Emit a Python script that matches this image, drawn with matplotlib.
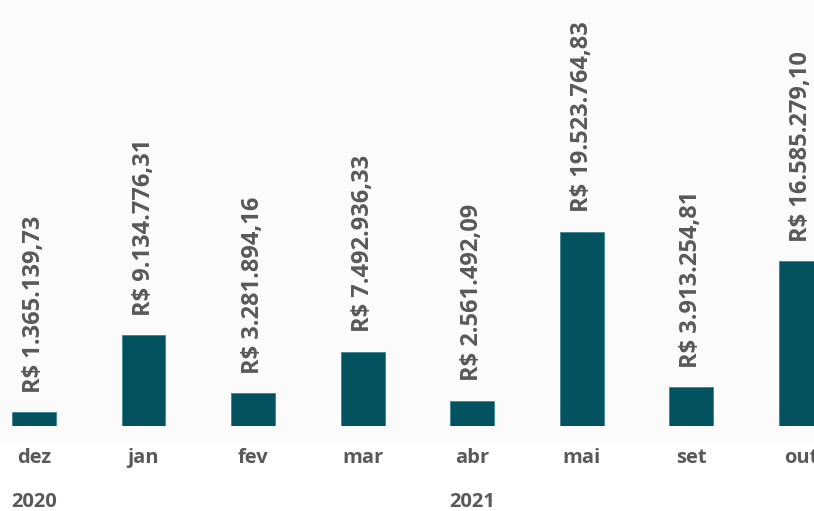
import matplotlib
matplotlib.use("Agg")
import matplotlib.pyplot as plt
from matplotlib.patches import Rectangle

months = ["dez", "jan", "fev", "mar", "abr", "mai", "set", "out"]
values = [1365139.73, 9134776.31, 3281894.16, 7492936.33, 2561492.09,
          19523764.83, 3913254.81, 16585279.10]
labels = ["R$ 1.365.139,73", "R$ 9.134.776,31", "R$ 3.281.894,16", "R$ 7.492.936,33",
          "R$ 2.561.492,09", "R$ 19.523.764,83", "R$ 3.913.254,81", "R$ 16.585.279,10"]
years = ["2020", "2021"]
year_pos = [0, 4]

W, H = 814, 511
fig = plt.figure(figsize=(W / 100, H / 100), dpi=100)
fig.patch.set_facecolor("white")
fig.patches.append(Rectangle((0, 1 - 441 / H), 1, 441 / H, transform=fig.transFigure,
                             facecolor="#fbfbfb", edgecolor="none", zorder=-5))

base = 426
ax = fig.add_axes([0, 1 - base / H, 1, base / H])
ax.set_facecolor("none")
ax.set_zorder(2)
x = list(range(len(months)))
ax.bar(x, values, width=0.40, color="#02535F", edgecolor="#3b8590", linewidth=0.6)
ax.set_xlim(-0.31, 7.12)
ax.set_ylim(0, 426 / 9.94 * 1e6)
ax.axis("off")

txtc = "#595959"
font = "Open Sans"
for xi, v, lab in zip(x, values, labels):
    ax.annotate(lab, (xi, v), xytext=(0, 14), textcoords="offset points",
                rotation=90, ha="center", va="bottom", fontsize=17,
                fontweight="bold", color=txtc, family=font)

for xi, m in zip(x, months):
    ax.annotate(m, (xi, 0), xytext=(0, -23), textcoords="offset points",
                ha="center", va="center", fontsize=14.5, fontweight="bold",
                color=txtc, family=font, annotation_clip=False)

for xp, y in zip(year_pos, years):
    ax.annotate(y, (xp, 0), xytext=(0, -55), textcoords="offset points",
                ha="center", va="center", fontsize=14.5, fontweight="bold",
                color=txtc, family=font, annotation_clip=False)

fig.savefig("out.png", dpi=100, facecolor=fig.get_facecolor())
